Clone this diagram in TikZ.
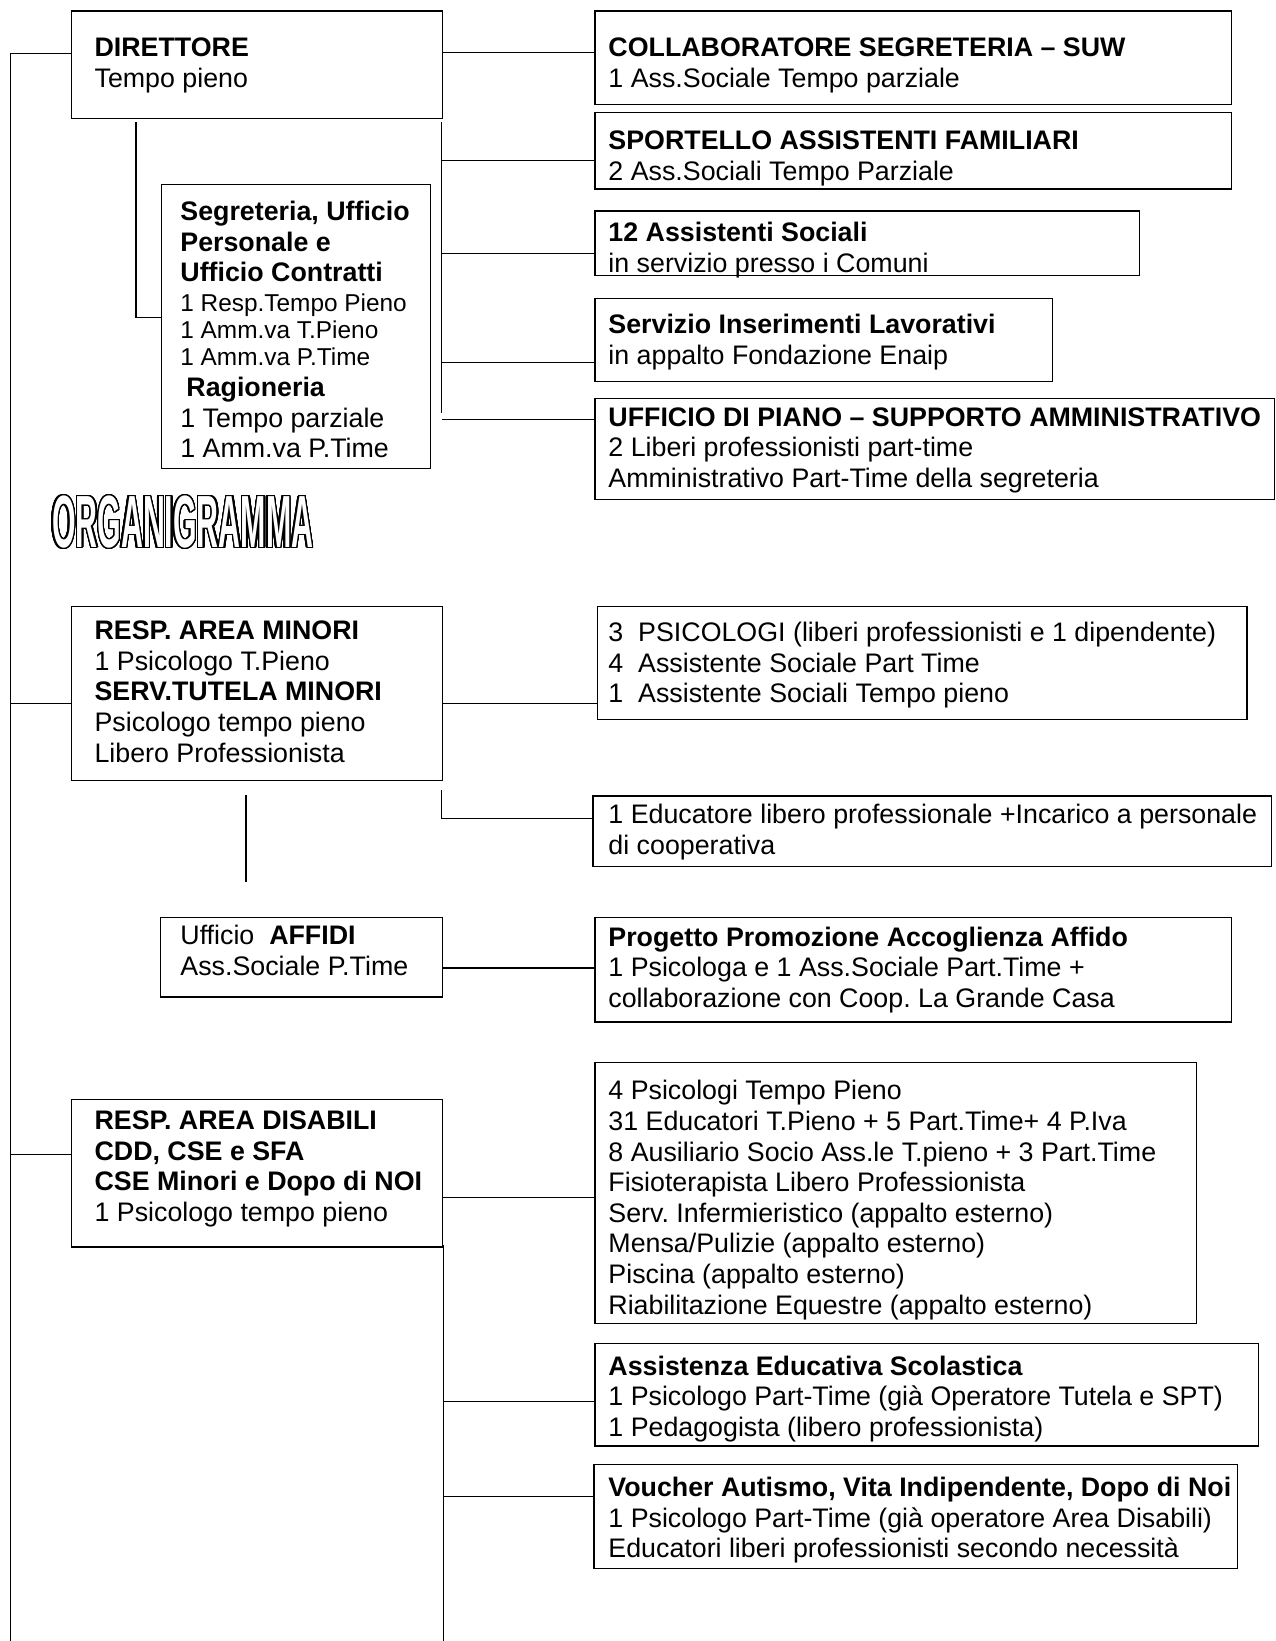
\documentclass[tikz,border=0pt]{standalone}
\usepackage{fontspec}
\setmainfont{Liberation Sans}
\usepackage{graphicx}
\usepackage{contour}
\contourlength{0.7pt}
\contournumber{32}
\frenchspacing

\tikzset{
  box/.style 2 args={draw, line width=0.6pt, anchor=north west, inner sep=0pt, minimum width=#1*0.5234pt, minimum height=#2*0.5234pt},
  txt/.style={anchor=north west, inner sep=0pt, align=left, font=\fontsize{13.4}{15.3}\selectfont, execute at begin node=\strut},
  smalltxt/.style={txt, font=\fontsize{12.2}{13.6}\selectfont},
  wire/.style={line width=0.6pt}
}

\begin{document}
\begin{tikzpicture}[x=0.5234pt, y=-0.5234pt]
\useasboundingbox (0,0) rectangle (1219,1568);

\node[box={354}{103}] (dir) at (68,10) {};
\node[box={608}{89}] (collab) at (568,10) {};
\node[box={608}{73}] (sport) at (568,107) {};
\node[box={520}{62}] (asoc) at (568,201) {};
\node[box={437}{79}] (sil) at (568,285) {};
\node[box={649}{97}] (udp) at (568,380) {};
\node[box={257}{271}] (seg) at (154,176) {};
\node[box={354}{166}] (minori) at (68,579) {};
\node[box={621}{108}] (psi) at (570,579) {};
\node[box={648}{67}] (educ) at (566,760) {};
\node[box={269}{76}] (affidi) at (153,876) {};
\node[box={608}{100}] (prog) at (568,876) {};
\node[box={354}{141}] (disab) at (68,1050) {};
\node[box={575}{249}] (staff) at (568,1015) {};
\node[box={634}{98}] (aes) at (568,1283) {};
\node[box={615}{99}] (vouch) at (567,1399) {};

\node[txt] (dirT) at (90,36) {\textbf{DIRETTORE}\\Tempo pieno};
\node[txt] (collabT) at (581,36) {\textbf{COLLABORATORE SEGRETERIA -- SUW}\\1 Ass.Sociale Tempo parziale};
\node[txt] (sportT) at (581,125) {\textbf{SPORTELLO ASSISTENTI FAMILIARI}\\2 Ass.Sociali Tempo Parziale};
\node[txt] (asocT) at (581,212) {\textbf{12 Assistenti Sociali}\\in servizio presso i Comuni};
\node[txt] (silT) at (581,300) {\textbf{Servizio Inserimenti Lavorativi}\\in appalto Fondazione Enaip};
\node[txt] (udpT) at (581,389) {\textbf{UFFICIO DI PIANO -- SUPPORTO AMMINISTRATIVO}\\2 Liberi professionisti part-time\\Amministrativo Part-Time della segreteria};
\node[txt, font=\fontsize{13.4}{15.3}\selectfont\bfseries] (segA) at (172,192) {Segreteria, Ufficio\\Personale e\\Ufficio Contratti};
\node[smalltxt] (segB) at (172,280) {1 Resp.Tempo Pieno\\1 Amm.va T.Pieno\\1 Amm.va P.Time};
\node[txt] (segC) at (172,360) {\hspace*{3pt}\textbf{Ragioneria}\\1 Tempo parziale\\1 Amm.va P.Time};
\node[txt] (minT) at (90,593) {\textbf{RESP. AREA MINORI}\\1 Psicologo T.Pieno\\\textbf{SERV.TUTELA MINORI}\\Psicologo tempo pieno\\Libero Professionista};
\node[txt] (psiT) at (581,594) {3~~PSICOLOGI (liberi professionisti e 1 dipendente)\\4~~Assistente Sociale Part Time\\1~~Assistente Sociali Tempo pieno};
\node[txt] (educT) at (581,768) {1 Educatore libero professionale +Incarico a personale\\di cooperativa};
\node[txt] (affT) at (172,884) {Ufficio~~\textbf{AFFIDI}\\Ass.Sociale P.Time};
\node[txt] (progT) at (581,885) {\textbf{Progetto Promozione Accoglienza Affido}\\1 Psicologa e 1 Ass.Sociale Part.Time +\\collaborazione con Coop. La Grande Casa};
\node[txt] (disT) at (90,1061) {\textbf{RESP. AREA DISABILI}\\\textbf{CDD, CSE e SFA}\\\textbf{CSE Minori e Dopo di NOI}\\1 Psicologo tempo pieno};
\node[txt] (staffT) at (581,1032) {4 Psicologi Tempo Pieno\\31 Educatori T.Pieno + 5 Part.Time+ 4 P.Iva\\8 Ausiliario Socio Ass.le T.pieno + 3 Part.Time\\Fisioterapista Libero Professionista\\Serv. Infermieristico (appalto esterno)\\Mensa/Pulizie (appalto esterno)\\Piscina (appalto esterno)\\Riabilitazione Equestre (appalto esterno)};
\node[txt] (aesT) at (581,1295) {\textbf{Assistenza Educativa Scolastica}\\1 Psicologo Part-Time (già Operatore Tutela e SPT)\\1 Pedagogista (libero professionista)};
\node[txt] (vouchT) at (581,1411) {\textbf{Voucher Autismo, Vita Indipendente, Dopo di Noi}\\1 Psicologo Part-Time (già operatore Area Disabili)\\Educatori liberi professionisti secondo necessità};

\node (title) at (174.5,499.5) {\contour{black}{\scalebox{0.41}[1]{\color{white}\fontsize{37}{40}\selectfont\bfseries ORGANIGRAMMA}}};

\coordinate (trunktop) at (10,51);
\coordinate (trunkbot) at (10,1568);
\draw[wire] (trunktop) -- (trunkbot);
\draw[wire] (trunktop) -- (dir.west |- trunktop);
\draw[wire] (trunktop |- 0,672) -- (minori.west |- 0,672);
\draw[wire] (trunktop |- 0,1103) -- (disab.west |- 0,1103);

\draw[wire] (dir.east |- 0,50) -- (collab.west |- 0,50);
\coordinate (dirbr) at (422,117);
\coordinate (dirbrend) at (422,395);
\draw[wire] (dirbr) -- (dirbrend);
\draw[wire] (dirbr |- 0,153) -- (sport.west |- 0,153);
\draw[wire] (dirbr |- 0,242) -- (asoc.west |- 0,242);
\draw[wire] (dirbr |- 0,346) -- (sil.west |- 0,346);
\draw[wire] (dirbr |- 0,401) -- (udp.west |- 0,401);
\coordinate (dirleg) at (130,117);
\draw[wire] (dirleg) -- (dirleg |- 0,303) -- (seg.west |- 0,303);

\draw[wire] (minori.east |- 0,672) -- (psi.west |- 0,672);
\coordinate (minleg) at (422,755);
\draw[wire] (minleg) -- (minleg |- 0,782) -- (educ.west |- 0,782);
\coordinate (affA) at (235,760);
\coordinate (affB) at (235,843);
\draw[wire] (affA) -- (affB);
\draw[wire] (affidi.east |- 0,925) -- (prog.west |- 0,925);

\draw[wire] (disab.east |- 0,1144) -- (staff.west |- 0,1144);
\coordinate (disleg) at (424,1190);
\coordinate (disend) at (424,1568);
\draw[wire] (disleg) -- (disend);
\draw[wire] (disleg |- 0,1339) -- (aes.west |- 0,1339);
\draw[wire] (disleg |- 0,1430) -- (vouch.west |- 0,1430);
\end{tikzpicture}
\end{document}
